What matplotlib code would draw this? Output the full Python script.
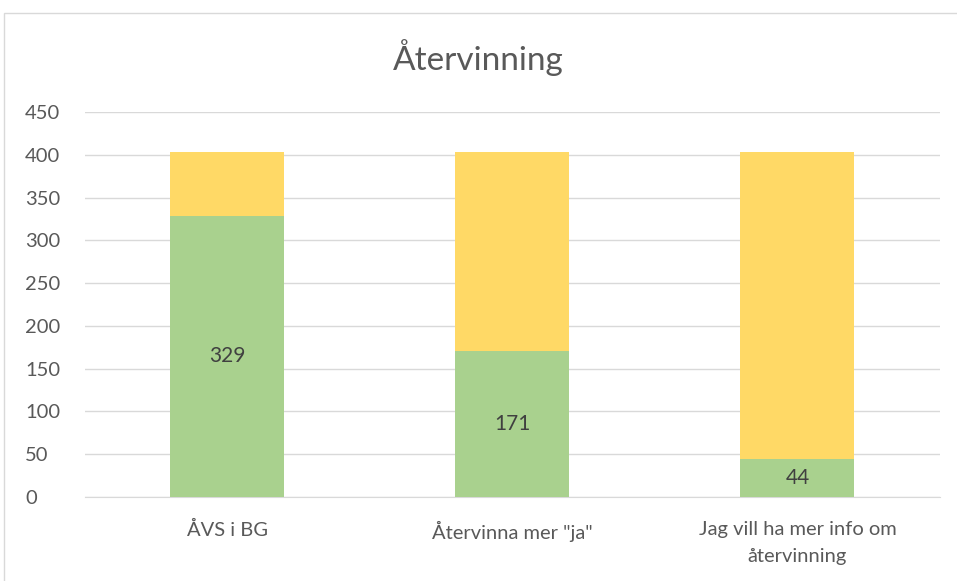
import numpy as np
import matplotlib.pyplot as plt
from matplotlib.patches import Rectangle

plt.rcParams['font.family'] = ['Lato', 'DejaVu Sans']

categories = ['ÅVS i BG', 'Återvinna mer "ja"', 'Jag vill ha mer info om\nåtervinning']
ja = [329, 171, 44]
rest = [74, 232, 359]
yticks = [0, 50, 100, 150, 200, 250, 300, 350, 400, 450]

green = '#A9D18E'
yellow = '#FFD966'
txt = '#595959'

fig = plt.figure(figsize=(9.57, 5.81), dpi=100)
ax = fig.add_axes([0.0888, 0.1446, 0.8934, 0.6626])

x = np.arange(len(categories))
ax.bar(x, ja, width=0.4, color=green, zorder=3)
ax.bar(x, rest, width=0.4, bottom=ja, color=yellow, zorder=3)

for xi, v in zip(x, ja):
    ax.text(xi, v / 2, str(v), ha='center', va='center', fontsize=15, color='#404040', zorder=4)

ax.set_xlim(-0.5, 2.5)
ax.set_ylim(0, 450)
ax.set_yticks(yticks)
ax.set_xticks(x)
ax.set_xticklabels(categories, fontsize=14.5, color=txt, linespacing=1.75)
ax.tick_params(axis='y', labelsize=14.5, labelcolor=txt, length=0, pad=43)
ax.tick_params(axis='x', length=0, pad=17)
ax.grid(axis='y', color='#D9D9D9', linewidth=1, zorder=0)
for s in ['top', 'right', 'left']:
    ax.spines[s].set_visible(False)
ax.spines['bottom'].set_color('#D9D9D9')
for lbl in ax.get_yticklabels():
    lbl.set_horizontalalignment('left')

fig.text(0.5, 1 - 58 / 581, 'Återvinning', ha='center', va='center', fontsize=24, color=txt)

fig.patches.append(Rectangle((4 / 957, -0.01), 1.0, 1 - 13 / 581 + 0.01, transform=fig.transFigure,
                             fill=False, edgecolor='#D9D9D9', linewidth=1))

fig.savefig('out.png', dpi=100)
